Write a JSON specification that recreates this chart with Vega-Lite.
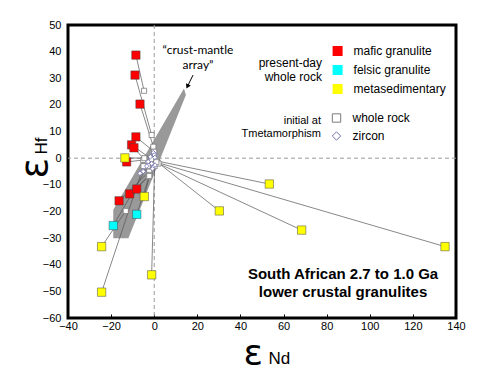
{
  "$schema": "https://vega.github.io/schema/vega-lite/v6.json",
  "width": 388,
  "height": 293,
  "autosize": "none",
  "padding": {"left": 68, "top": 25, "right": 31, "bottom": 62},
  "background": "white",
  "config": {
    "view": {"stroke": "black", "strokeWidth": 3},
    "font": "Liberation Sans",
    "axis": {"grid": false, "domain": false, "labelFont": "Liberation Sans", "labelFontSize": 11, "labelColor": "black", "titleColor": "black", "titleFontWeight": "normal"},
    "legend": {"labelFont": "Liberation Sans", "titleFont": "Liberation Sans", "labelColor": "black", "titleColor": "black", "titleFontWeight": "normal"}
  },
  "datasets": {
    "samples": [
      {"id": "R1", "type": "mafic granulite", "kind": "whole rock", "xp": -8.5, "yp": 38.7, "xi": -4.7, "yi": 25.3},
      {"id": "R2", "type": "mafic granulite", "kind": "whole rock", "xp": -8.9, "yp": 31.2, "xi": -1.2, "yi": 8.7},
      {"id": "R3", "type": "mafic granulite", "kind": "whole rock", "xp": -6.6, "yp": 20.3, "xi": -0.4, "yi": 4.3},
      {"id": "R4", "type": "mafic granulite", "kind": "whole rock", "xp": -8.5, "yp": 8.0, "xi": 0.0, "yi": 2.4},
      {"id": "R5", "type": "mafic granulite", "kind": "whole rock", "xp": -10.5, "yp": 5.0, "xi": -1.2, "yi": -0.4},
      {"id": "R6", "type": "mafic granulite", "kind": "whole rock", "xp": -9.4, "yp": 3.9, "xi": -3.5, "yi": -1.5},
      {"id": "R7", "type": "mafic granulite", "kind": "whole rock", "xp": -12.8, "yp": -1.4, "xi": -5.1, "yi": -0.7},
      {"id": "R8", "type": "mafic granulite", "kind": "whole rock", "xp": -16.3, "yp": -16.0, "xi": -2.3, "yi": -5.0},
      {"id": "R9", "type": "mafic granulite", "kind": "whole rock", "xp": -11.4, "yp": -13.4, "xi": -2.7, "yi": -6.9},
      {"id": "R10", "type": "mafic granulite", "kind": "whole rock", "xp": -8.1, "yp": -11.6, "xi": -2.3, "yi": -6.3},
      {"id": "C1", "type": "felsic granulite", "kind": "whole rock", "xp": -8.1, "yp": -21.1, "xi": -0.5, "yi": -2.5},
      {"id": "C2", "type": "felsic granulite", "kind": "whole rock", "xp": -19.0, "yp": -25.3, "xi": -3.0, "yi": -3.0},
      {"id": "Y1", "type": "metasedimentary", "kind": "whole rock", "xp": -13.6, "yp": 0.1, "xi": -4.6, "yi": 0.0},
      {"id": "Y2", "type": "metasedimentary", "kind": "whole rock", "xp": -4.6, "yp": -14.4, "xi": -2.3, "yi": -6.7},
      {"id": "Y3", "type": "metasedimentary", "kind": "whole rock", "xp": -24.4, "yp": -33.2, "xi": -13.2, "yi": -19.8},
      {"id": "Y4", "type": "metasedimentary", "kind": "whole rock", "xp": -1.2, "yp": -43.8, "xi": 0.2, "yi": -3.0},
      {"id": "Y5", "type": "metasedimentary", "kind": "whole rock", "xp": -24.4, "yp": -50.3, "xi": -5.0, "yi": -3.0},
      {"id": "Y6", "type": "metasedimentary", "kind": "whole rock", "xp": 30.2, "yp": -19.8, "xi": 1.5, "yi": -1.5},
      {"id": "Y7", "type": "metasedimentary", "kind": "whole rock", "xp": 53.4, "yp": -9.7, "xi": 1.0, "yi": -1.0},
      {"id": "Y8", "type": "metasedimentary", "kind": "whole rock", "xp": 68.4, "yp": -27.0, "xi": 2.0, "yi": -2.0},
      {"id": "Y9", "type": "metasedimentary", "kind": "whole rock", "xp": 134.9, "yp": -33.2, "xi": 1.0, "yi": -1.5}
    ],
    "zircon": [
      {"kind": "zircon", "x": -6.6, "y": -5.7}, {"kind": "zircon", "x": -5.1, "y": -4.7}, {"kind": "zircon", "x": -0.4, "y": -3.2}, {"kind": "zircon", "x": 0.4, "y": -2.6},
      {"kind": "zircon", "x": -2.8, "y": -1.3}, {"kind": "zircon", "x": 0.0, "y": 1.8}, {"kind": "zircon", "x": -0.4, "y": 2.1}, {"kind": "zircon", "x": 0.0, "y": 1.2},
      {"kind": "zircon", "x": -5.1, "y": -5.0}, {"kind": "zircon", "x": -1.2, "y": -2.0}, {"kind": "zircon", "x": -1.8, "y": 0.5}, {"kind": "zircon", "x": -3.5, "y": -3.0},
      {"kind": "zircon", "x": -0.8, "y": -4.0}, {"kind": "zircon", "x": 0.3, "y": 0.3}
    ],
    "band": [
      {"x": -19.0, "lo": -30.1, "hi": -19.4},
      {"x": -12.0, "lo": -30.1, "hi": -9.7},
      {"x": 13.8, "lo": 21.9, "hi": 26.2},
      {"x": 14.7, "lo": 23.7, "hi": 23.7}
    ],
    "arrow": [
      {"x": 18.0, "y": 31.2, "x2": 15.4, "y2": 26.9}
    ],
    "note": [
      {"x": 20.3, "y": 42.5, "text": "“crust-mantle\narray”"}
    ],
    "heading": [
      {"x": 87.6, "y": -43.5, "text": "South African 2.7 to 1.0 Ga"},
      {"x": 87.6, "y": -50.2, "text": "lower crustal granulites"}
    ]
  },
  "layer": [
    {
      "data": {"values": [{}]},
      "mark": {"type": "rule", "stroke": "#9a9a9a", "strokeWidth": 1, "strokeDash": [4, 3]},
      "encoding": {"x": {"datum": 0, "type": "quantitative", "axis": null}}
    },
    {
      "data": {"values": [{}]},
      "mark": {"type": "rule", "stroke": "#9a9a9a", "strokeWidth": 1, "strokeDash": [4, 3]},
      "encoding": {"y": {"datum": 0, "type": "quantitative", "axis": null}}
    },
    {
      "data": {"name": "band"},
      "mark": {"type": "area", "color": "#999999", "opacity": 1},
      "encoding": {
        "x": {"field": "x", "type": "quantitative",
          "axis": {"orient": "bottom", "title": "Nd", "labels": false, "ticks": false, "domain": false, "grid": false,
            "titleFont": "Liberation Sans", "titleFontSize": 17, "titleX": 200, "titleY": 45, "titleAlign": "left", "titleBaseline": "alphabetic"}},
        "y": {"field": "lo", "type": "quantitative",
          "axis": {"orient": "left", "title": "Hf", "labels": false, "ticks": false, "domain": false, "grid": false,
            "titleFont": "Liberation Sans", "titleFontSize": 17, "titleAngle": 270, "titleX": -22, "titleY": 129, "titleAlign": "left", "titleBaseline": "alphabetic"}},
        "y2": {"field": "hi"}
      }
    },
    {
      "data": {"name": "samples"},
      "mark": {"type": "rule", "stroke": "#555555", "strokeWidth": 0.7},
      "encoding": {
        "x": {"field": "xp", "type": "quantitative", "axis": null},
        "y": {"field": "yp", "type": "quantitative", "axis": null},
        "x2": {"field": "xi"},
        "y2": {"field": "yi"}
      }
    },
    {
      "data": {"name": "samples"},
      "mark": {"type": "point", "filled": false, "fill": "white", "strokeWidth": 0.8, "size": 26, "opacity": 1},
      "encoding": {
        "x": {"field": "xi", "type": "quantitative", "axis": null},
        "y": {"field": "yi", "type": "quantitative", "axis": null},
        "shape": {"field": "kind", "type": "nominal",
          "scale": {"domain": ["whole rock", "zircon"], "range": ["square", "diamond"]},
          "legend": {"orient": "none", "legendX": 174, "legendY": 87, "title": ["initial at", "Tmetamorphism"],
            "titleOrient": "left", "titleAlign": "right", "titleAnchor": "middle", "titleFontSize": 11, "titlePadding": -70.5,
            "labelFontSize": 12, "labelOffset": 10, "symbolSize": 70, "symbolStrokeWidth": 1, "rowPadding": 4}},
        "stroke": {"field": "kind", "type": "nominal",
          "scale": {"domain": ["whole rock", "zircon"], "range": ["#7a7a7a", "#7272b4"]},
          "legend": {"orient": "none", "legendX": 174, "legendY": 87, "title": ["initial at", "Tmetamorphism"],
            "titleOrient": "left", "titleAlign": "right", "titleAnchor": "middle", "titleFontSize": 11, "titlePadding": -70.5,
            "labelFontSize": 12, "labelOffset": 10, "symbolSize": 70, "symbolStrokeWidth": 1, "rowPadding": 4}}
      }
    },
    {
      "data": {"name": "zircon"},
      "mark": {"type": "point", "filled": false, "fill": "white", "strokeWidth": 0.8, "size": 20, "opacity": 1},
      "encoding": {
        "x": {"field": "x", "type": "quantitative", "axis": null},
        "y": {"field": "y", "type": "quantitative", "axis": null},
        "shape": {"field": "kind", "type": "nominal"},
        "stroke": {"field": "kind", "type": "nominal"}
      }
    },
    {
      "data": {"name": "samples"},
      "mark": {"type": "point", "shape": "square", "filled": true, "size": 70, "stroke": "#444444", "strokeWidth": 0.5, "opacity": 1},
      "encoding": {
        "x": {"field": "xp", "type": "quantitative", "scale": {"domain": [-40, 140], "nice": false, "zero": false},
          "axis": {"orient": "bottom", "title": "ε", "titleFont": "DejaVu Sans", "titleFontSize": 36, "titleX": 175, "titleY": 46, "titleAlign": "left", "titleBaseline": "alphabetic",
            "values": [-40, -20, 0, 20, 40, 60, 80, 100, 120, 140], "ticks": true, "tickSize": -4, "tickColor": "black", "tickWidth": 1, "labelPadding": 6, "labelFlush": false}},
        "y": {"field": "yp", "type": "quantitative", "scale": {"domain": [-60, 50], "nice": false, "zero": false},
          "axis": {"orient": "left", "title": "ε", "titleFont": "DejaVu Sans", "titleFontSize": 38, "titleAngle": 270, "titleX": -22, "titleY": 153, "titleAlign": "left", "titleBaseline": "alphabetic",
            "values": [-60, -50, -40, -30, -20, -10, 0, 10, 20, 30, 40, 50], "ticks": false, "labelPadding": 7, "labelFlush": false}},
        "fill": {"field": "type", "type": "nominal",
          "scale": {"domain": ["mafic granulite", "felsic granulite", "metasedimentary"], "range": ["#ff0000", "#00ffff", "#ffff00"]},
          "legend": {"orient": "none", "legendX": 191, "legendY": 20, "title": ["present-day", "whole rock"],
            "titleOrient": "left", "titleAlign": "right", "titleAnchor": "middle", "titleFontSize": 12, "titlePadding": -54.4,
            "labelFontSize": 12, "labelOffset": 10, "symbolType": "square", "symbolSize": 100, "symbolStrokeWidth": 0, "rowPadding": 7}}
      }
    },
    {
      "data": {"name": "arrow"},
      "mark": {"type": "rule", "stroke": "black", "strokeWidth": 1},
      "encoding": {
        "x": {"field": "x", "type": "quantitative", "axis": null},
        "y": {"field": "y", "type": "quantitative", "axis": null},
        "x2": {"field": "x2"},
        "y2": {"field": "y2"}
      }
    },
    {
      "data": {"name": "arrow"},
      "mark": {"type": "point", "shape": "triangle-down", "filled": true, "color": "black", "size": 28, "angle": 25, "opacity": 1},
      "encoding": {
        "x": {"field": "x2", "type": "quantitative", "axis": null},
        "y": {"field": "y2", "type": "quantitative", "axis": null}
      }
    },
    {
      "data": {"name": "note"},
      "mark": {"type": "text", "font": "Lato", "fontSize": 12, "align": "center", "baseline": "top", "lineBreak": "\n", "lineHeight": 15, "color": "black"},
      "encoding": {
        "x": {"field": "x", "type": "quantitative", "axis": null},
        "y": {"field": "y", "type": "quantitative", "axis": null},
        "text": {"field": "text"}
      }
    },
    {
      "data": {"name": "heading"},
      "mark": {"type": "text", "font": "Liberation Sans", "fontSize": 15, "fontWeight": "bold", "align": "center", "baseline": "middle", "color": "black"},
      "encoding": {
        "x": {"field": "x", "type": "quantitative", "axis": null},
        "y": {"field": "y", "type": "quantitative", "axis": null},
        "text": {"field": "text"}
      }
    }
  ],
  "resolve": {"axis": {"x": "independent", "y": "independent"}}
}
